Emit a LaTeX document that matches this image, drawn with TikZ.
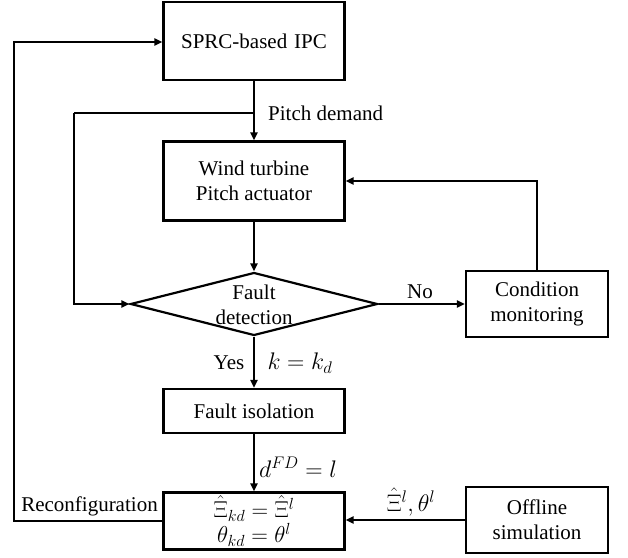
\RequirePackage{fix-cm}
\documentclass[tikz,border=0pt]{standalone}
\usepackage{fontspec}
\setmainfont{Liberation Serif}
\newfontfamily\tnr{Liberation Serif}
\usetikzlibrary{shapes.geometric,arrows.meta}
\begin{document}
\begin{tikzpicture}[x=1pt,y=-1pt,font=\tnr\fontsize{21}{25}\selectfont,
  box/.style={draw,line width=2.2pt,inner sep=0pt,align=center},
  conn/.style={line width=2.1pt},
  arr/.style={conn,-{Triangle[length=8pt,width=7pt]}},
  lab/.style={inner sep=0pt},
  mth/.style={inner sep=0pt,font=\fontsize{24}{27}\selectfont}]
\useasboundingbox (0,0) rectangle (628,557);
% boxes
\node[box,minimum width=181pt,minimum height=78pt] (ipc) at (254,41) {SPRC-based\,\,IPC};
\node[box,minimum width=181pt,minimum height=79pt] (wt) at (254,181) {Wind turbine\\Pitch actuator};
\node[box,draw,shape=diamond,minimum width=247pt,minimum height=63pt,inner sep=0pt] (fd) at (254,304) {};
\node[lab,align=center] (fdtext) at (254,305) {Fault\\detection};
\node[box,minimum width=142pt,minimum height=66pt] (cm) at (537,304) {Condition\\monitoring};
\node[box,minimum width=181pt,minimum height=44pt] (fi) at (254,411) {Fault isolation};
\node[box,minimum width=181pt,minimum height=57pt,font=\fontsize{23}{25}\selectfont] (rc) at (254,521) {$\hat{\Xi}_{kd}=\hat{\Xi}^{l}$\\$\theta_{kd}=\theta^{l}$};
\node[box,minimum width=142pt,minimum height=66pt] (os) at (537,520) {Offline\\simulation};
% junction coordinates
\coordinate (j) at (254,113);
\coordinate (il) at (74,113);
\coordinate (ol) at (14,42);
% connectors
\draw[arr] (ipc.south) -- (wt.north);
\draw[conn] (j) -- (il);
\draw[arr] (il) |- (fd.west);
\draw[arr] (wt.south) -- (fd.north);
\draw[arr] (fd.east) -- (cm.west);
\draw[arr] (cm.north) |- (wt.east);
\draw[arr] (fd.south) -- (fi.north);
\draw[arr] (fi.south) -- (rc.north);
\draw[arr] (os.west) -- (os.west -| rc.east);
\draw[arr] (rc.west) -| (ol) -- (ipc.west |- ol);
% labels
\node[lab,anchor=west] (pd) at (268,113) {Pitch demand};
\node[lab] (no) at (420,292) {No};
\node[lab] (yes) at (229,363) {Yes};
\node[mth] (kk) at (300,363) {$k=k_d$};
\node[mth] (dfd) at (298,467) {$d^{FD}=l$};
\node[mth] (xl) at (411,502) {$\hat{\Xi}^{l},\theta^{l}$};
\node[lab] (rec) at (89.5,506) {Reconfiguration};
\end{tikzpicture}
\end{document}
